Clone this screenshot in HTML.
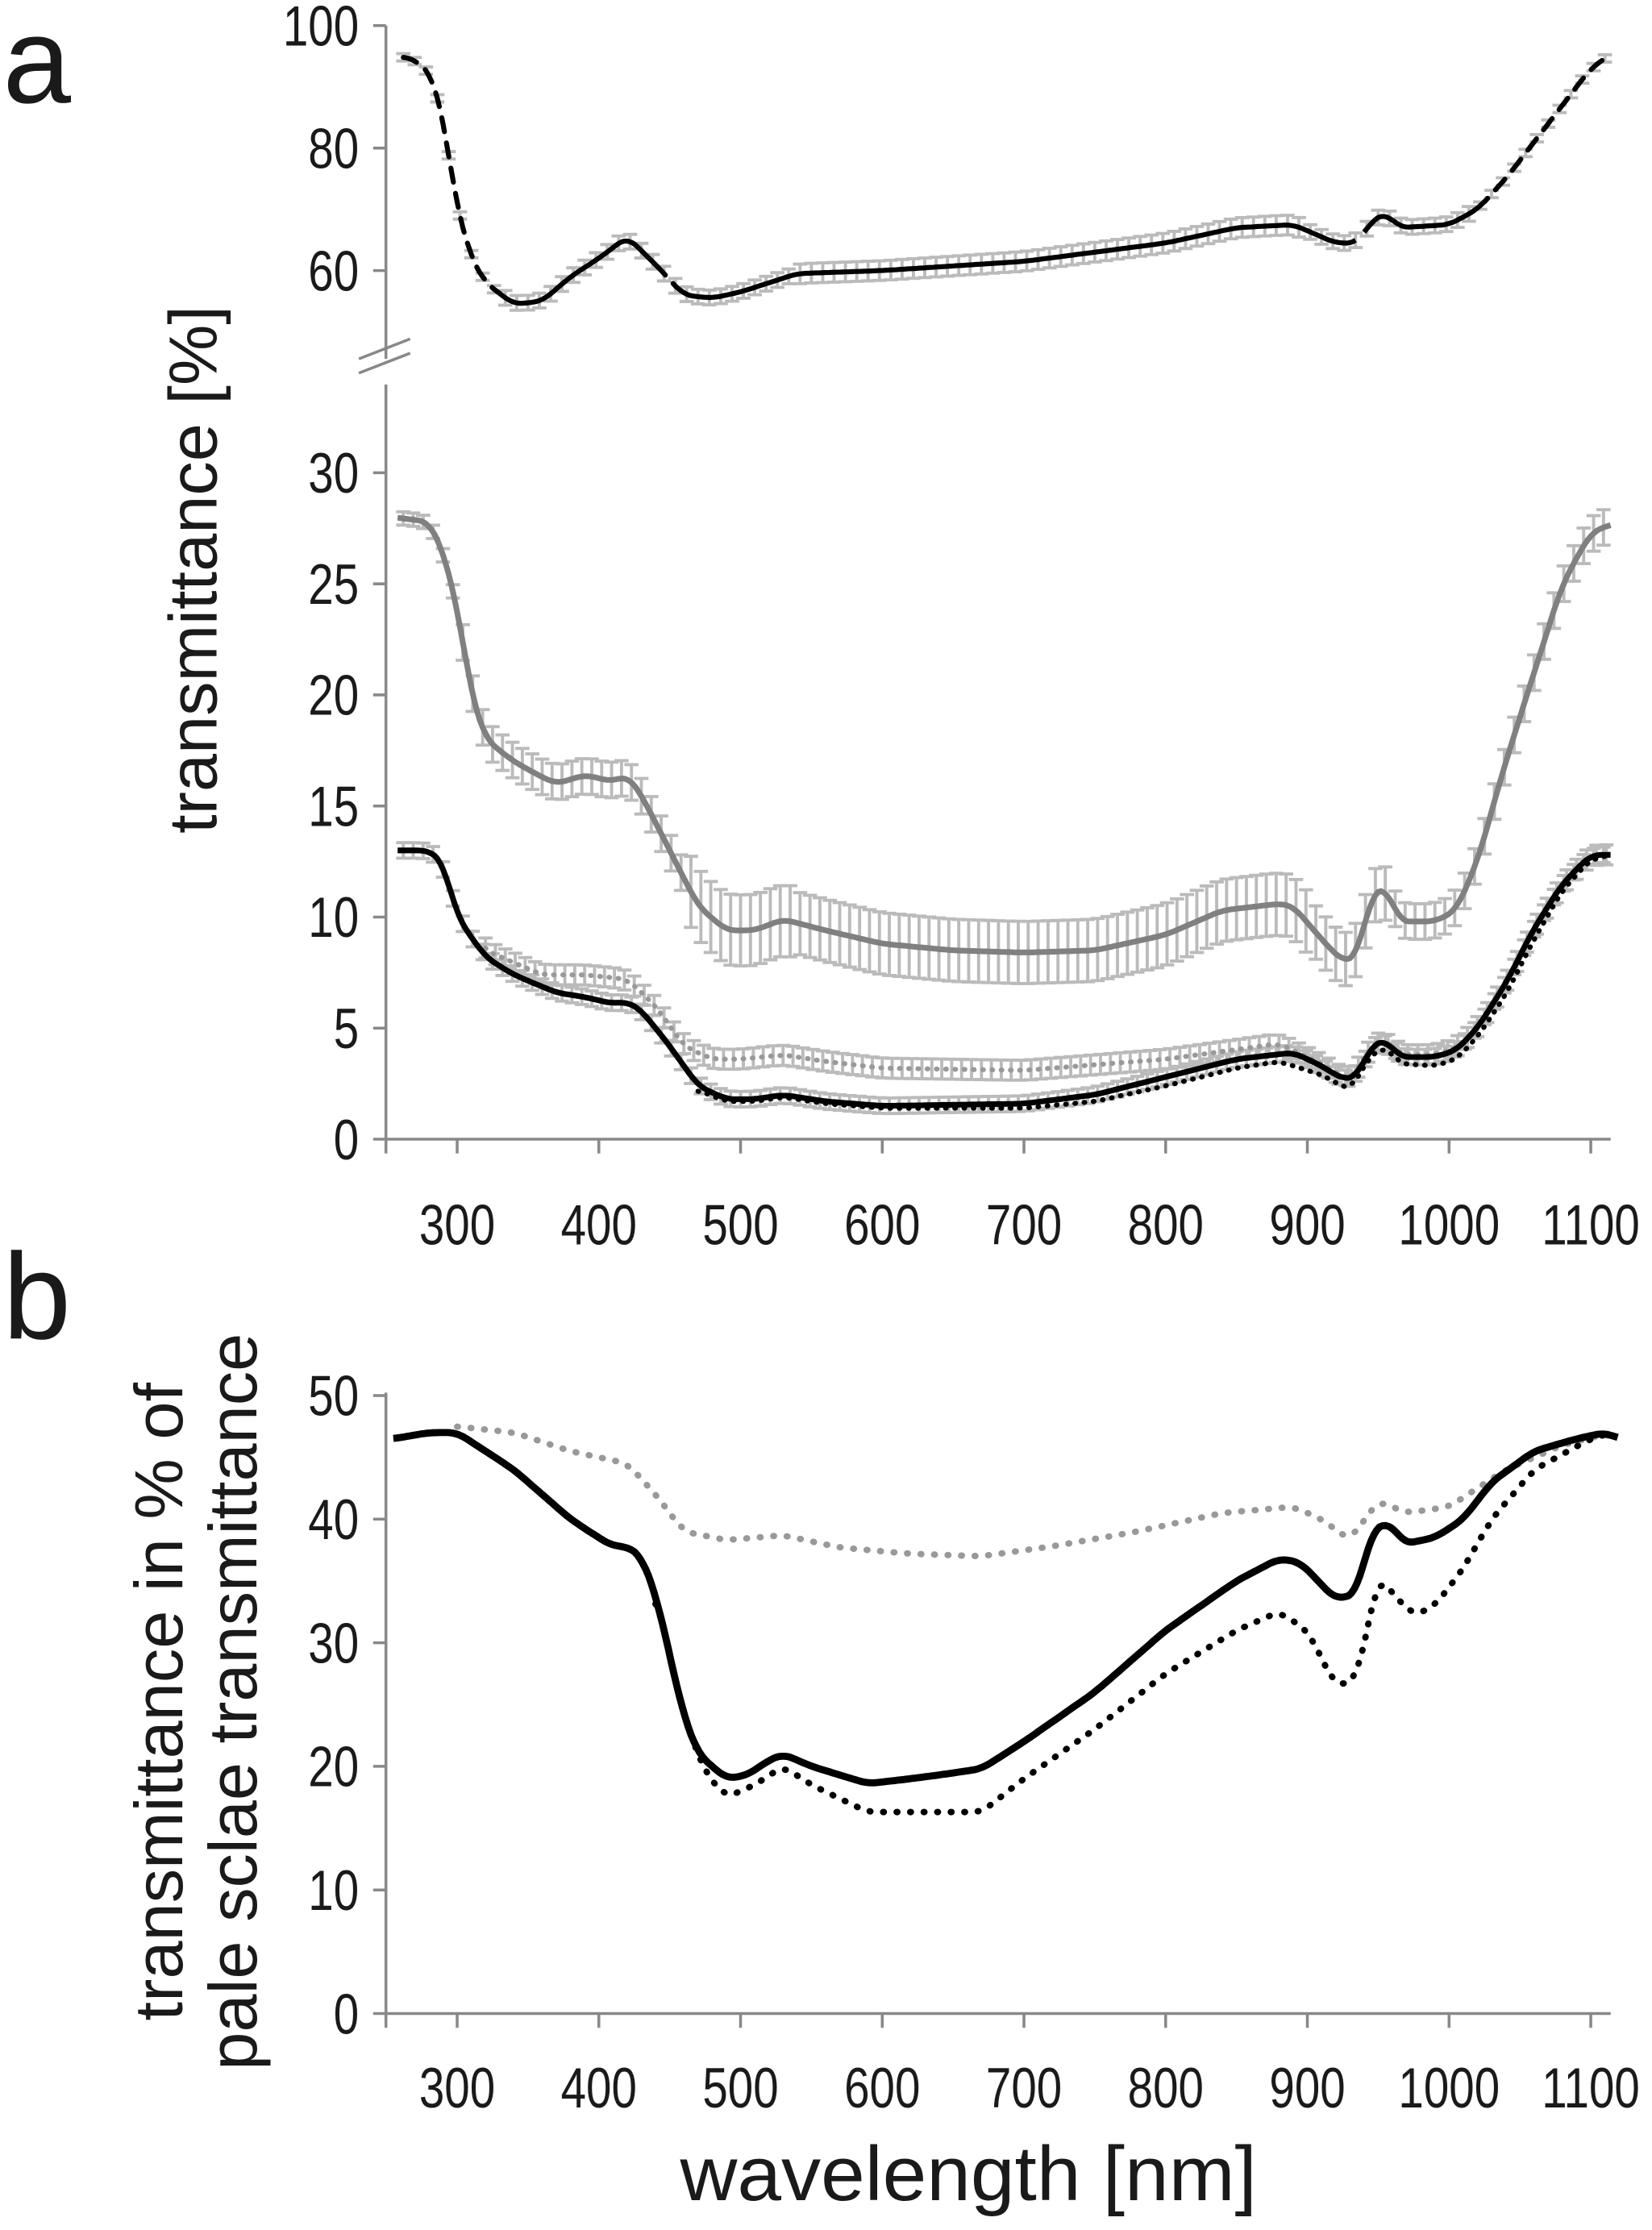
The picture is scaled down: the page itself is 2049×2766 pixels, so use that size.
<!DOCTYPE html>
<html><head><meta charset="utf-8"><style>
html,body{margin:0;padding:0;background:#fff}
svg{display:block}
text{font-family:"Liberation Sans",sans-serif;fill:#1a1a1a}
</style></head><body>
<svg id="s" width="2049" height="2766" viewBox="0 0 1160 1566" preserveAspectRatio="none" xmlns="http://www.w3.org/2000/svg">
<g id="eb" stroke="#bbb" stroke-width="2.2" fill="none"></g>
<g id="lines" fill="none"></g>
<g stroke="#888" stroke-width="2" fill="none">
<line x1="271" y1="18" x2="271" y2="252"/>
<line x1="271" y1="270" x2="271" y2="800"/>
<line x1="252" y1="252" x2="288" y2="238"/>
<line x1="252" y1="262" x2="288" y2="248"/>
<line x1="271" y1="800" x2="1131" y2="800"/>
<line x1="271" y1="978" x2="271" y2="1414"/>
<line x1="271" y1="1414" x2="1131" y2="1414"/>
</g>
<g id="ticks" stroke="#888" stroke-width="2"></g>
<g id="labels" font-size="40"></g>
<text x="2" y="72" font-size="86">a</text>
<text x="2" y="940" font-size="86">b</text>
<text transform="translate(152,400) rotate(-90)" text-anchor="middle" font-size="48">transmittance [%]</text>
<text transform="translate(128,1195) rotate(-90)" text-anchor="middle" font-size="48">transmittance in % of</text>
<text transform="translate(180,1195) rotate(-90)" text-anchor="middle" font-size="48">pale sclae transmittance</text>
<text x="680" y="1545" text-anchor="middle" font-size="54" textLength="405" lengthAdjust="spacingAndGlyphs">wavelength [nm]</text>
</svg>
<script>
(function(){
var NS="http://www.w3.org/2000/svg";
function X(l){return 321+(l-300)*0.995;}
function el(p,t,a,txt){var e=document.createElementNS(NS,t);for(var k in a)e.setAttribute(k,a[k]);if(txt!==undefined)e.textContent=txt;document.getElementById(p).appendChild(e);return e;}
function interp(d,l){if(l<=d[0][0])return d[0][1];for(var i=0;i<d.length-1;i++){if(l>=d[i][0]&&l<=d[i+1][0]){var t=(l-d[i][0])/(d[i+1][0]-d[i][0]);return d[i][1]+(d[i+1][1]-d[i][1])*t;}}return d[d.length-1][1];}
function pathOf(d,Y,a,b){var s="";for(var l=a;l<=b;l+=2){var v=interp(d,l);s+=(s?"L":"M")+X(l).toFixed(1)+","+Y(v).toFixed(1);}return s;}
function smooth(d){var out=[];for(var l=d[0][0];l<=d[d.length-1][0];l+=2){var s=0,n=0;for(var k=-6;k<=6;k+=2){var q=Math.min(Math.max(l+k,d[0][0]),d[d.length-1][0]);s+=interp(d,q);n++;}out.push([l,s/n]);}return out;}
var YA=function(v){return 18+(100-v)*4.3;};
var YL=function(v){return 800-v*15.6;};
var YB=function(v){return 1414-v*8.68;};
var topC=smooth([[258,95],[270,94.5],[282,92],[290,85],[300,70],[310,62],[320,58],[340,54.5],[360,55],[380,59],[400,62],[420,65.5],[440,61],[460,56],[480,55.5],[500,56.5],[520,58],[540,59.5],[600,60],[700,61.5],[800,64.5],[850,67],[890,67.5],[920,64.5],[935,64.5],[945,68],[955,69.5],[965,67],[1000,67.5],[1020,70],[1040,75],[1060,81],[1080,87],[1100,93],[1115,95.5]]);
var gray=smooth([[255,28],[280,27.8],[290,26.5],[300,24],[310,20],[320,18],[340,17],[360,16.3],[370,16],[390,16.4],[410,16.1],[420,16.4],[430,15.5],[450,13],[470,10.5],[490,9.4],[510,9.4],[530,9.9],[560,9.4],[600,8.8],[650,8.5],[700,8.4],[750,8.5],[800,9.2],[840,10.3],[880,10.6],[890,10.5],[910,9],[925,8],[935,8.2],[945,11],[955,11.4],[965,9.8],[990,9.8],[1005,10.3],[1020,12.5],[1040,17],[1060,21],[1080,25],[1100,27.3],[1115,27.7]]);
var blk=smooth([[255,13],[280,13],[290,12.5],[300,10],[320,8.2],[340,7.4],[370,6.6],[390,6.4],[410,6.1],[420,6.2],[430,5.8],[450,4.2],[470,2.4],[490,1.8],[510,1.8],[530,2],[560,1.7],[600,1.5],[700,1.6],[750,2],[800,2.8],[850,3.6],[890,3.9],[910,3.3],[925,2.7],[935,2.8],[945,4.2],[955,4.5],[965,3.7],[990,3.7],[1005,4],[1020,5],[1040,7],[1060,9.5],[1080,11.5],[1100,12.8],[1115,12.8]]);
var gdot=smooth([[300,10.3],[320,8.5],[360,7.4],[390,7.4],[420,7.2],[440,6],[460,4.2],[480,3.6],[500,3.6],[530,3.8],[560,3.5],[600,3.2],[700,3.1],[800,3.6],[880,4.3],[910,3.4],[930,2.6],[945,4.2],[955,4.5],[965,3.8],[990,3.8],[1005,4.1],[1020,5],[1040,7],[1060,9.5],[1080,11.5],[1100,12.8],[1115,12.8]]);
var bdot=smooth([[470,2.2],[490,1.7],[510,1.7],[530,1.9],[560,1.6],[600,1.4],[700,1.4],[750,1.7],[800,2.4],[850,3.2],[880,3.5],[910,2.9],[930,2.2],[945,3.8],[955,4.2],[965,3.4],[990,3.3],[1005,3.6],[1020,4.6],[1040,6.5],[1060,9],[1080,11.2],[1100,12.6],[1115,12.8]]);
var bS=smooth([[255,46.5],[280,47],[300,47],[320,45.5],[340,44],[360,42],[380,40],[400,38.5],[410,37.8],[420,37.8],[430,37],[440,34],[450,29],[460,24],[470,21],[490,19],[505,19.3],[520,20.5],[530,21],[550,20],[590,18.6],[620,19],[640,19.3],[670,19.8],[700,22],[750,26],[800,31],[850,35],[880,36.8],[895,36.5],[920,33.5],[935,34],[945,39],[958,39.8],[968,38],[990,38.5],[1010,40],[1030,43],[1060,45.5],[1090,46.5],[1110,47],[1120,46.5]]);
var bD=smooth([[440,34],[450,29],[460,24],[475,19.5],[490,17.5],[510,18.5],[530,20],[550,18.5],[590,16.3],[670,16.3],[700,19],[750,23],[800,27.5],[850,31],[880,32.5],[900,31],[920,26.5],[935,27],[950,35.5],[960,34],[975,32.2],[990,33],[1010,36],[1030,40],[1060,44],[1100,46.5],[1115,47]]);
var gD=smooth([[300,47.5],[340,47],[380,45.5],[420,44.5],[440,42],[460,39],[490,38.3],[530,38.7],[570,37.7],[620,37.2],[670,37],[720,37.8],[780,39],[840,40.5],[890,41],[910,40],[930,38.3],[950,41.5],[970,40.5],[1000,41],[1040,44],[1080,46],[1115,47]]);
function bars(d,Y,errf,a,b,step){for(var l=a;l<=b;l+=step){var v=interp(d,l),e=errf(l);var x=X(l),y1=Y(v+e),y2=Y(v-e);
el("eb","path",{d:"M"+x+","+y1+"V"+y2+"M"+(x-5)+","+y1+"h10M"+(x-5)+","+y2+"h10"});}}
bars(topC,YA,function(l){return l<330||l>1020?0.6:(l>540&&l<900?1.6:1.2);},262,1112,8);
bars(gray,YL,function(l){return l<300?0.3:(l>460&&l<900?(l<540?1.6:1.4):(l>900&&l<960?1.2:0.8));},262,1112,7);
bars(gdot,YL,function(l){return 0.45;},320,1112,7);
bars(blk,YL,function(l){return 0.35;},262,1112,7);
function line(d,Y,a,b,col,w,dash){var at={d:pathOf(d,Y,a,b),stroke:col,"stroke-width":w,"stroke-linejoin":"round"};if(dash){at["stroke-dasharray"]=dash;at["stroke-linecap"]="round";}el("lines","path",at);}
line(topC,YA,262,330,"#000",3.5,"10,8");line(topC,YA,330,440,"#000",3.5);line(topC,YA,440,460,"#000",3.5,"10,8");line(topC,YA,460,935,"#000",3.5);line(topC,YA,940,960,"#000",3.5);line(topC,YA,960,1020,"#000",3.5);line(topC,YA,1020,1115,"#000",3.5,"10,8");
line(gray,YL,258,1115,"#808080",4);
line(gdot,YL,320,1115,"#999",3.5,"0.5,6");
line(bdot,YL,470,1115,"#000",3.5,"0.5,6");
line(blk,YL,258,1115,"#000",4);
line(gD,YB,300,1115,"#999",4.5,"0.5,9");
line(bD,YB,440,1115,"#000",4.5,"0.5,9");
line(bS,YB,255,1120,"#000",5);
function lab(x,y,anchor,txt){el("labels","text",{transform:"translate("+x+","+y+") scale(0.8,1)","text-anchor":anchor},txt);}
function yt(v,y){el("ticks","line",{x1:262,y1:y,x2:271,y2:y});lab(252,y+14,"end",v);}
yt("100",YA(100));yt("80",YA(80));yt("60",YA(60));
[0,5,10,15,20,25,30].forEach(function(v){yt(String(v),YL(v));});
[0,10,20,30,40,50].forEach(function(v){yt(String(v),YB(v));});
[250,300,400,500,600,700,800,900,1000,1100].forEach(function(l){var x=X(l);if(l==250)x=271;
el("ticks","line",{x1:x,y1:800,x2:x,y2:810});el("ticks","line",{x1:x,y1:1414,x2:x,y2:1424});
if(l>=300){lab(x,874,"middle",String(l));lab(x,1480,"middle",String(l));}});
})();
</script>
</body></html>
